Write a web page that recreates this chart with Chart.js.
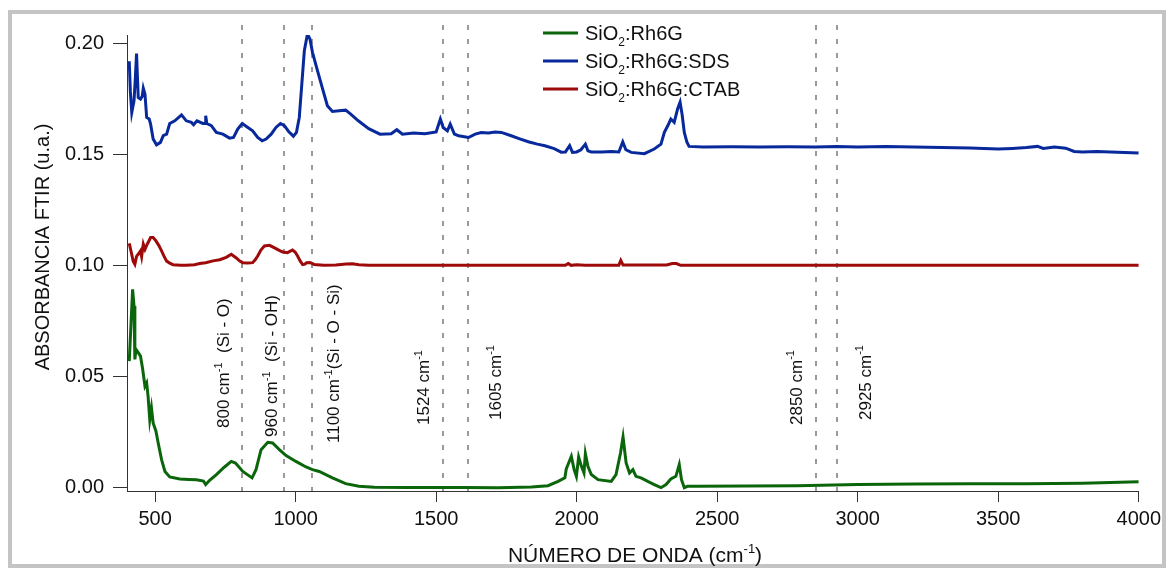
<!DOCTYPE html>
<html>
<head>
<meta charset="utf-8">
<script src="https://cdn.jsdelivr.net/npm/chart.js@4"></script>
<style>
  html, body { margin: 0; padding: 0; background: #fff; }
  #wrap { position: relative; width: 1166px; height: 568px; }
</style>
</head>
<body>
<div id="wrap"><canvas id="ftir" width="1166" height="568"></canvas></div>
<script>
// wavenumber (cm-1) / absorbance
const rh6gWave = [408, 420, 425, 428, 432, 440, 448, 455, 464, 470, 475, 481, 487, 493, 503, 511, 523, 535, 552, 588, 620, 647, 672, 680, 694, 718, 747, 771, 786, 812, 845, 859, 877, 901, 918, 942, 966, 1001, 1037, 1060, 1084, 1131, 1178, 1225, 1280, 1400, 1600, 1721, 1839, 1898, 1934, 1958, 1963, 1981, 1991, 1999, 2007, 2017, 2026, 2031, 2040, 2052, 2076, 2123, 2140, 2156, 2165, 2176, 2188, 2200, 2211, 2229, 2253, 2276, 2300, 2318, 2335, 2353, 2365, 2373, 2383, 2394, 2429, 2600, 2784, 3000, 3200, 3400, 3600, 3800, 3900, 4000];
const rh6gAbs = [0.0569, 0.0892, 0.0817, 0.0577, 0.0622, 0.0607, 0.0592, 0.0539, 0.0456, 0.0471, 0.0411, 0.0306, 0.0359, 0.0291, 0.0254, 0.0201, 0.0126, 0.0073, 0.0048, 0.0039, 0.0037, 0.0036, 0.0030, 0.0014, 0.0033, 0.0059, 0.0093, 0.0118, 0.0111, 0.0073, 0.0044, 0.0081, 0.0171, 0.0204, 0.0201, 0.0171, 0.0144, 0.0118, 0.0093, 0.0081, 0.0073, 0.0044, 0.0018, 0.0006, 0.0002, 0.0001, 0.0001, 0.0000, 0.0003, 0.0009, 0.0028, 0.0044, 0.0084, 0.0141, 0.0081, 0.0051, 0.0138, 0.0096, 0.0066, 0.0153, 0.0096, 0.0059, 0.0036, 0.0028, 0.0059, 0.0156, 0.0228, 0.0111, 0.0066, 0.0081, 0.0051, 0.0044, 0.0028, 0.0014, 0.0000, 0.0014, 0.0039, 0.0051, 0.0104, 0.0036, 0.0000, 0.0006, 0.0006, 0.0008, 0.0009, 0.0014, 0.0016, 0.0018, 0.0018, 0.0020, 0.0023, 0.0027];

const sdsWave = [408, 412, 417, 425, 430, 434, 437, 440, 448, 454, 458, 464, 470, 479, 484, 493, 505, 519, 529, 541, 552, 570, 594, 611, 629, 637, 649, 670, 678, 680, 684, 700, 718, 741, 765, 779, 794, 810, 830, 847, 865, 881, 895, 913, 930, 946, 960, 975, 992, 1003, 1013, 1022, 1031, 1042, 1051, 1060, 1078, 1098, 1113, 1131, 1155, 1178, 1196, 1223, 1260, 1300, 1340, 1360, 1380, 1420, 1460, 1500, 1515, 1525, 1540, 1550, 1565, 1580, 1615, 1639, 1660, 1686, 1710, 1732, 1767, 1800, 1828, 1860, 1887, 1920, 1945, 1960, 1975, 1985, 2000, 2015, 2031, 2040, 2052, 2090, 2123, 2150, 2164, 2175, 2194, 2241, 2276, 2300, 2312, 2325, 2335, 2347, 2359, 2368, 2375, 2383, 2392, 2400, 2450, 2550, 2650, 2750, 2850, 2925, 3000, 3100, 3200, 3300, 3400, 3500, 3550, 3600, 3640, 3660, 3700, 3740, 3770, 3800, 3850, 3900, 3950, 4000];
const sdsAbs = [0.1918, 0.1780, 0.1688, 0.1740, 0.1850, 0.1953, 0.1850, 0.1755, 0.1748, 0.1760, 0.1797, 0.1770, 0.1665, 0.1658, 0.1635, 0.1568, 0.1542, 0.1553, 0.1583, 0.1590, 0.1638, 0.1650, 0.1677, 0.1650, 0.1643, 0.1632, 0.1650, 0.1638, 0.1638, 0.1673, 0.1638, 0.1628, 0.1598, 0.1590, 0.1572, 0.1575, 0.1613, 0.1638, 0.1620, 0.1605, 0.1575, 0.1560, 0.1568, 0.1590, 0.1620, 0.1638, 0.1628, 0.1602, 0.1581, 0.1598, 0.1665, 0.1815, 0.1965, 0.2040, 0.2018, 0.1958, 0.1875, 0.1785, 0.1718, 0.1692, 0.1695, 0.1698, 0.1680, 0.1650, 0.1615, 0.1590, 0.1592, 0.1610, 0.1590, 0.1595, 0.1592, 0.1600, 0.1658, 0.1620, 0.1605, 0.1635, 0.1590, 0.1583, 0.1575, 0.1590, 0.1597, 0.1595, 0.1600, 0.1598, 0.1583, 0.1568, 0.1556, 0.1545, 0.1538, 0.1525, 0.1509, 0.1510, 0.1538, 0.1508, 0.1510, 0.1520, 0.1545, 0.1515, 0.1510, 0.1510, 0.1512, 0.1510, 0.1555, 0.1520, 0.1508, 0.1502, 0.1523, 0.1545, 0.1598, 0.1630, 0.1658, 0.1643, 0.1703, 0.1734, 0.1680, 0.1598, 0.1555, 0.1535, 0.1532, 0.1533, 0.1532, 0.1533, 0.1532, 0.1535, 0.1532, 0.1534, 0.1532, 0.1530, 0.1528, 0.1523, 0.1526, 0.1530, 0.1535, 0.1526, 0.1532, 0.1527, 0.1512, 0.1510, 0.1512, 0.1510, 0.1508, 0.1505];

const ctabWave = [408, 415, 422, 428, 434, 440, 448, 452, 458, 464, 472, 484, 493, 503, 513, 523, 532, 541, 552, 564, 590, 611, 640, 659, 680, 706, 730, 753, 771, 789, 800, 812, 830, 847, 856, 865, 877, 889, 907, 920, 930, 945, 954, 971, 989, 998, 1007, 1016, 1025, 1033, 1039, 1051, 1066, 1100, 1143, 1180, 1202, 1225, 1260, 1400, 1600, 1800, 1960, 1970, 1980, 2000, 2030, 2150, 2157, 2165, 2200, 2320, 2340, 2355, 2370, 2500, 3000, 3500, 4000];
const ctabAbs = [0.1099, 0.1060, 0.1019, 0.1005, 0.1040, 0.1050, 0.1065, 0.1040, 0.1095, 0.1072, 0.1095, 0.1125, 0.1125, 0.1110, 0.1090, 0.1065, 0.1040, 0.1019, 0.1010, 0.1003, 0.1000, 0.1000, 0.1003, 0.1008, 0.1012, 0.1020, 0.1025, 0.1036, 0.1050, 0.1033, 0.1020, 0.1012, 0.1010, 0.1012, 0.1025, 0.1042, 0.1070, 0.1087, 0.1090, 0.1082, 0.1075, 0.1065, 0.1060, 0.1057, 0.1069, 0.1060, 0.1042, 0.1020, 0.1003, 0.1005, 0.1012, 0.1013, 0.1004, 0.1000, 0.1002, 0.1006, 0.1007, 0.1003, 0.1000, 0.1000, 0.1000, 0.1000, 0.1000, 0.1008, 0.1000, 0.1003, 0.1000, 0.1000, 0.1022, 0.1002, 0.1002, 0.1002, 0.1008, 0.1008, 0.1000, 0.1000, 0.1000, 0.1000, 0.1000];

const seriesNames = ['Rh6G', 'Rh6G:SDS', 'Rh6G:CTAB'];
const seriesColors = ['#0b660b', '#08299b', '#9e0a0a'];

const xTicks = [500, 1000, 1500, 2000, 2500, 3000, 3500, 4000];
const yTicks = [0, 0.05, 0.10, 0.15, 0.20];

// band markers (dashed lines) and their labels
const bandWave = [808, 960, 1060, 1524, 1615, 2850, 2925];
const bandLabel = ['800', '960', '1100', '1524', '1605', '2850', '2925'];
const bandGroup = ['  (Si - O)', '  (Si - OH)', '(Si - O - Si)', '', '', '', ''];

const FONT = '"Liberation Sans", Arial, Helvetica, sans-serif';

function toPoints(xs, ys) {
  return xs.map((x, i) => ({ x: x, y: ys[i] }));
}

// text with sub/superscript pieces: [[text, ''|'sup'|'sub'], ...]
function richWidth(ctx, parts, size) {
  let w = 0;
  parts.forEach(([t, m]) => {
    ctx.font = (m ? Math.round(size * 0.62) : size) + 'px ' + FONT;
    w += ctx.measureText(t).width;
  });
  return w;
}
function drawRich(ctx, parts, x, y, size, align) {
  let cx = align === 'center' ? x - richWidth(ctx, parts, size) / 2 : x;
  ctx.textAlign = 'left';
  ctx.textBaseline = 'alphabetic';
  parts.forEach(([t, m]) => {
    const s = m ? Math.round(size * 0.62) : size;
    ctx.font = s + 'px ' + FONT;
    const dy = m === 'sup' ? -size * 0.42 : (m === 'sub' ? size * 0.28 : 0);
    ctx.fillText(t, cx, y + dy);
    cx += ctx.measureText(t).width;
  });
}

// label placement: [dx from dashed line, bottom y]
const bandLabelPos = [[-19, 428], [-13, 437], [21, 443], [-20, 425], [27, 420], [-20, 425], [28, 420]];

const decorPlugin = {
  id: 'decor',
  beforeDraw(chart) {
    const ctx = chart.ctx;
    ctx.save();
    ctx.fillStyle = '#fff';
    ctx.fillRect(0, 0, chart.width, chart.height);
    ctx.strokeStyle = '#c4c4c4';
    ctx.lineWidth = 4;
    ctx.strokeRect(10, 12, 1154, 554);
    ctx.restore();
  },
  beforeDatasetsDraw(chart) {
    const ctx = chart.ctx;
    const xs = chart.scales.x;
    ctx.save();
    ctx.strokeStyle = '#9a9a9a';
    ctx.lineWidth = 2;
    ctx.setLineDash([5, 9]);
    bandWave.forEach(w => {
      const px = Math.round(xs.getPixelForValue(w));
      ctx.beginPath();
      ctx.moveTo(px, 25);
      ctx.lineTo(px, chart.chartArea.bottom);
      ctx.stroke();
    });
    ctx.restore();
  },
  afterDraw(chart) {
    const ctx = chart.ctx;
    const xs = chart.scales.x;
    ctx.save();
    ctx.fillStyle = '#111';

    // band labels, rotated
    bandWave.forEach((w, i) => {
      const px = xs.getPixelForValue(w) + bandLabelPos[i][0];
      ctx.save();
      ctx.translate(px + 6, bandLabelPos[i][1]);
      ctx.rotate(-Math.PI / 2);
      const parts = [[bandLabel[i] + ' cm', ''], ['-1', 'sup']];
      if (bandGroup[i]) parts.push([bandGroup[i], '']);
      drawRich(ctx, parts, 0, 0, 17, 'left');
      ctx.restore();
    });

    // axis titles
    drawRich(ctx, [['NÚMERO DE ONDA (cm', ''], ['-1', 'sup'], [')', '']], 635, 562, 21, 'center');
    ctx.save();
    ctx.translate(49, 247);
    ctx.rotate(-Math.PI / 2);
    drawRich(ctx, [['ABSORBANCIA FTIR (u.a.)', '']], 0, 0, 20, 'center');
    ctx.restore();

    // legend
    seriesNames.forEach((name, i) => {
      const ly = 33 + i * 28;
      ctx.strokeStyle = seriesColors[i];
      ctx.lineWidth = 3;
      ctx.beginPath();
      ctx.moveTo(543, ly);
      ctx.lineTo(578, ly);
      ctx.stroke();
      ctx.fillStyle = '#111';
      drawRich(ctx, [['SiO', ''], ['2', 'sub'], [':' + name, '']], 585, ly + 7, 20, 'left');
    });
    ctx.restore();
  }
};

const makeSet = (label, xs, ys, color) => ({
  label: label,
  data: toPoints(xs, ys),
  borderColor: color,
  borderWidth: 3,
  pointRadius: 0,
  tension: 0,
  fill: false
});

new Chart(document.getElementById('ftir').getContext('2d'), {
  type: 'line',
  data: {
    datasets: [
      makeSet(seriesNames[0], rh6gWave, rh6gAbs, seriesColors[0]),
      makeSet(seriesNames[1], sdsWave, sdsAbs, seriesColors[1]),
      makeSet(seriesNames[2], ctabWave, ctabAbs, seriesColors[2])
    ]
  },
  options: {
    responsive: false,
    devicePixelRatio: 1,
    animation: false,
    layout: { padding: { left: 0, right: 23, top: 35, bottom: 0 } },
    plugins: {
      legend: { display: false },
      tooltip: { enabled: false },
      title: { display: false }
    },
    scales: {
      x: {
        type: 'linear',
        min: 400,
        max: 4000,
        afterBuildTicks: s => { s.ticks = xTicks.map(v => ({ value: v })); },
        afterFit: s => { s.height = 77; },
        grid: { drawOnChartArea: false, drawTicks: true, tickLength: 11, color: '#333' },
        border: { display: true, color: '#333', width: 1 },
        ticks: {
          font: { family: FONT, size: 20 },
          color: '#111',
          padding: 5,
          maxRotation: 0,
          callback: v => String(v)
        }
      },
      y: {
        type: 'linear',
        min: -0.0015,
        max: 0.2036,
        afterBuildTicks: s => { s.ticks = yTicks.map(v => ({ value: v })); },
        afterFit: s => { s.width = 127; },
        grid: { drawOnChartArea: false, drawTicks: true, tickLength: 14, color: '#333' },
        border: { display: true, color: '#333', width: 1 },
        ticks: {
          font: { family: FONT, size: 20 },
          color: '#111',
          padding: 9,
          callback: v => v.toFixed(2)
        }
      }
    }
  },
  plugins: [decorPlugin]
});
</script>
</body>
</html>
